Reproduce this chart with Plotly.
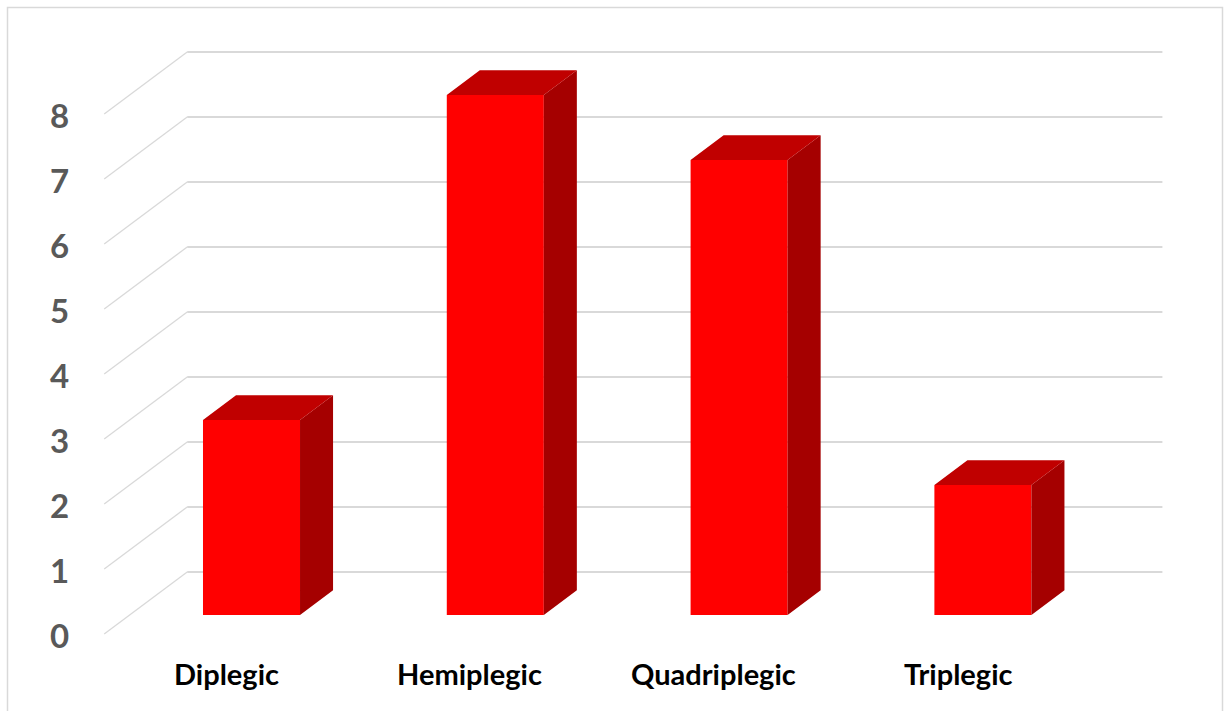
import plotly.graph_objects as go

# Data
categories = ["Diplegic", "Hemiplegic", "Quadriplegic", "Triplegic"]
values = [3, 8, 7, 2]
y_ticks = [0, 1, 2, 3, 4, 5, 6, 7, 8]

# Oblique 3D projection parameters (in axis units)
DX = 0.3404          # horizontal shift for full depth of the wall box
DY = 0.9538          # vertical shift for full depth of the wall box
T0, T1 = 0.306, 0.704  # depth fraction of bar front / back faces
BAR_W = 0.398


def proj(i, v, t):
    """Project (category index, value, depth fraction) onto the 2D axes."""
    return i + (t - T0) * DX, v + (t - T0) * DY


fig = go.Figure()

# Walls: back-wall horizontal lines and side-wall diagonal lines (behind the bars)
for v in y_ticks:
    x0, y0 = proj(-0.5, v, 1)
    x1, y1 = proj(len(categories) - 0.5, v, 1)
    xa, ya = proj(-0.5, v, 0)
    fig.add_shape(type="line", xref="x", yref="y", x0=x0, y0=y0, x1=x1, y1=y1,
                  line=dict(color="#D9D9D9", width=2), layer="below")
    fig.add_shape(type="line", xref="x", yref="y", x0=xa, y0=ya, x1=x0, y1=y0,
                  line=dict(color="#D9D9D9", width=1.3), layer="below")

# Front faces of the columns
idx = list(range(len(categories)))
fig.add_trace(go.Bar(x=idx, y=values, width=BAR_W, base=0,
                     marker=dict(color="#FF0000", line=dict(width=0)),
                     hoverinfo="skip", showlegend=False))

# Side and top faces
bdx = (T1 - T0) * DX
bdy = (T1 - T0) * DY
sx, sy, tx, ty = [], [], [], []
for i, v in zip(idx, values):
    r = i + BAR_W / 2
    l = i - BAR_W / 2
    sx += [r, r, r + bdx, r + bdx, r, None]
    sy += [0, v, v + bdy, bdy, 0, None]
    tx += [l, r, r + bdx, l + bdx, l, None]
    ty += [v, v, v + bdy, v + bdy, v, None]

fig.add_trace(go.Scatter(x=sx, y=sy, mode="lines", fill="toself",
                         fillcolor="#A50000", line=dict(width=0, color="#A50000"),
                         hoverinfo="skip", showlegend=False))
fig.add_trace(go.Scatter(x=tx, y=ty, mode="lines", fill="toself",
                         fillcolor="#C00000", line=dict(width=0, color="#C00000"),
                         hoverinfo="skip", showlegend=False))

# Value axis labels at the front edge of the side wall
for v in y_ticks:
    xa, ya = proj(-0.5, v, 0)
    fig.add_annotation(x=xa, y=ya, text=str(v), showarrow=False,
                       xanchor="right", yanchor="middle", xshift=-33, yshift=-1,
                       font=dict(family="Lato", size=33, color="#595959",
                                 weight="bold"))

# Category labels at the front edge of the floor
for i, c in zip(idx, categories):
    xa, ya = proj(i, 0, 0)
    fig.add_annotation(x=xa, y=ya, text=c, showarrow=False,
                       xanchor="center", yanchor="middle", yshift=-40,
                       font=dict(family="Lato", size=29, color="#000000",
                                 weight="bold"))

# Chart area border
fig.add_shape(type="rect", xref="paper", yref="paper",
              x0=7.5 / 1227, x1=1222.5 / 1227, y0=-0.05, y1=1 - 7.5 / 711,
              line=dict(color="#D9D9D9", width=1.5), layer="below")

fig.update_layout(
    width=1227, height=711,
    margin=dict(l=0, r=0, t=0, b=0),
    paper_bgcolor="white", plot_bgcolor="white",
    xaxis=dict(range=[-1.0316, 4.0012], visible=False, fixedrange=True),
    yaxis=dict(range=[-1.4769, 9.4615], visible=False, fixedrange=True),
    showlegend=False,
)

fig.write_html("out.html")
